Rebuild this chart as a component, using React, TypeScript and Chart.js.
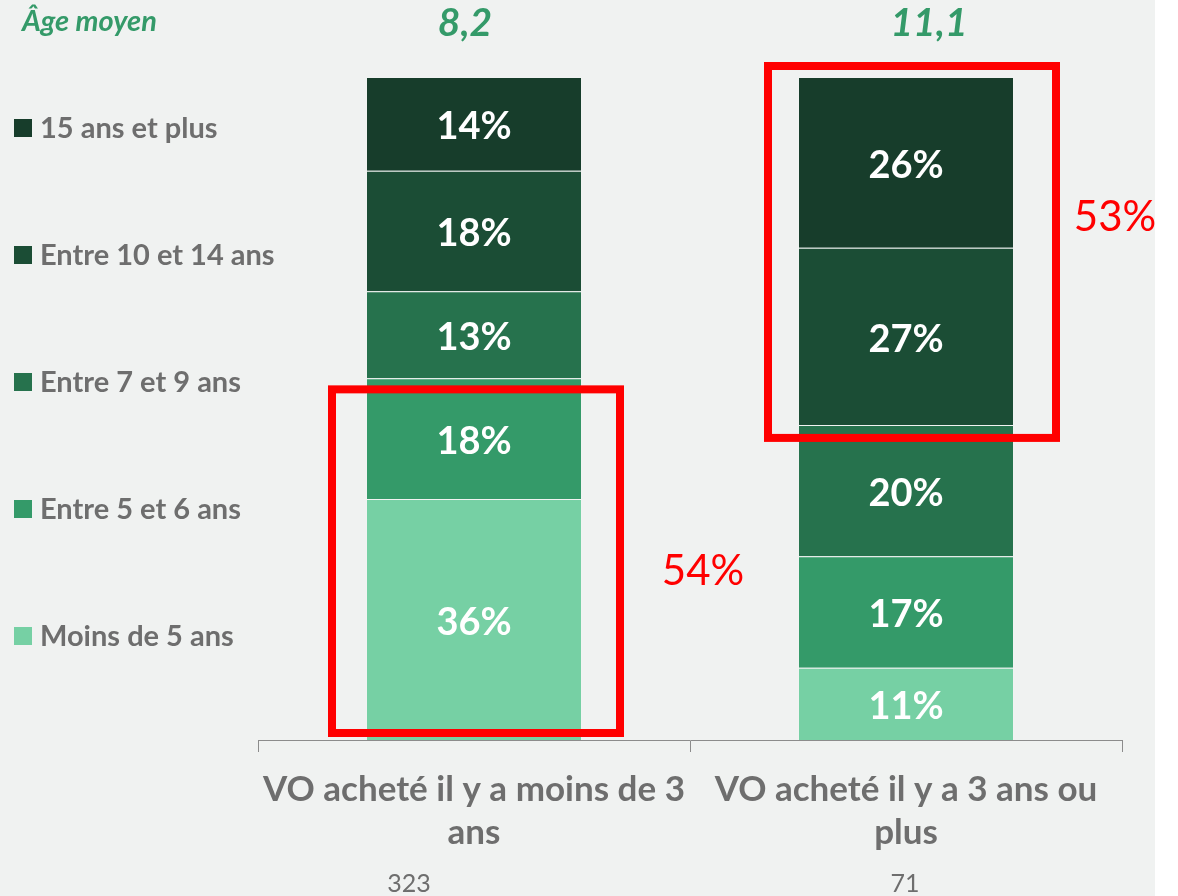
import React, { useEffect, useRef } from "react";
import { Chart, registerables } from "chart.js";

Chart.register(...registerables);

// ---------- data ----------
const categories = [
  ["VO acheté il y a moins de 3", "ans"],
  ["VO acheté il y a 3 ans ou", "plus"],
];
const sampleSizes = ["323", "71"];
const averageAges = ["8,2", "11,1"];
const averageAgeTitle = "Âge moyen";

const seriesLabels = [
  "Moins de 5 ans",
  "Entre 5 et 6 ans",
  "Entre 7 et 9 ans",
  "Entre 10 et 14 ans",
  "15 ans et plus",
];
const moinsDe5 = [36, 11];
const entre5et6 = [18, 17];
const entre7et9 = [13, 20];
const entre10et14 = [18, 27];
const plus15 = [14, 26];
const seriesValues = [moinsDe5, entre5et6, entre7et9, entre10et14, plus15];
const seriesColors = ["#76d0a4", "#349a69", "#26724d", "#1b4d35", "#173d2b"];

// highlighted groups: bar index, first & last series index, total label
const highlightBars = [0, 1];
const highlightFrom = [0, 3];
const highlightTo = [1, 4];
const highlightTotals = ["54%", "53%"];

// ---------- styling ----------
const FONT = "Lato, 'Open Sans', 'DejaVu Sans', sans-serif";
const GRAY = "#6e6e6e";
const GREEN = "#349a69";
const BG = "#f0f2f1";

const totals = categories.map((_, i) =>
  seriesValues.reduce((s, arr) => s + arr[i], 0)
);

const overlayPlugin = {
  id: "overlay",
  afterDatasetsDraw(chart: any) {
    const { ctx } = chart;
    const xScale = chart.scales.x;
    ctx.save();

    // value labels inside segments
    ctx.font = `bold 38px ${FONT}`;
    ctx.fillStyle = "#ffffff";
    ctx.textAlign = "center";
    ctx.textBaseline = "middle";
    chart.data.datasets.forEach((ds: any, di: number) => {
      const meta = chart.getDatasetMeta(di);
      meta.data.forEach((el: any, i: number) => {
        const raw = ds.rawValues[i];
        ctx.fillText(`${raw}%`, el.x, (el.y + el.base) / 2 + 3);
      });
    });

    // highlight boxes
    const boxPad = [
      { l: 34, t: -11, r: 38, b: 7, lx: 83, ly: 182 },
      { l: 30, t: 11, r: 42, b: -13, lx: 59, ly: 151 },
    ];
    highlightBars.forEach((bar, k) => {
      const topEl = chart.getDatasetMeta(highlightTo[k]).data[bar];
      const botEl = chart.getDatasetMeta(highlightFrom[k]).data[bar];
      const half = topEl.width / 2;
      const p = boxPad[k];
      const left = topEl.x - half - p.l;
      const right = topEl.x + half + p.r;
      const top = topEl.y - p.t;
      const bottom = botEl.base - p.b;
      ctx.strokeStyle = "#ff0000";
      ctx.lineWidth = 8;
      ctx.strokeRect(left, top, right - left, bottom - top);
      ctx.fillStyle = "#ff0000";
      ctx.font = `42px ${FONT}`;
      ctx.textAlign = "center";
      ctx.textBaseline = "middle";
      ctx.fillText(highlightTotals[k], right + p.lx, top + p.ly);
    });

    // legend on the left (top to bottom = last dataset first)
    ctx.font = `bold 29px ${FONT}`;
    ctx.textAlign = "left";
    ctx.textBaseline = "middle";
    for (let i = 0; i < seriesLabels.length; i++) {
      const di = seriesLabels.length - 1 - i;
      const cy = 128 + i * 127;
      ctx.fillStyle = seriesColors[di];
      ctx.fillRect(14, cy - 9, 18, 18);
      ctx.fillStyle = GRAY;
      ctx.fillText(seriesLabels[di], 40, cy + 1);
    }

    // average age header
    ctx.fillStyle = GREEN;
    ctx.font = `italic bold 29px ${FONT}`;
    ctx.textAlign = "left";
    ctx.fillText(averageAgeTitle, 22, 22);
    ctx.font = `italic bold 39px ${FONT}`;
    ctx.textAlign = "center";
    const ageDx = [-9, 23];
    averageAges.forEach((a, i) => {
      ctx.fillText(a, xScale.getPixelForValue(i) + ageDx[i], 23);
    });

    // sample sizes
    ctx.fillStyle = GRAY;
    ctx.font = `25px ${FONT}`;
    const nDx = [-65, -1];
    sampleSizes.forEach((n, i) => {
      ctx.fillText(n, xScale.getPixelForValue(i) + nDx[i], 884);
    });

    ctx.restore();
  },
};

export default function App() {
  const ref = useRef<HTMLCanvasElement>(null);

  useEffect(() => {
    if (!ref.current) return;
    const chart = new Chart(ref.current, {
      type: "bar",
      data: {
        labels: categories as any,
        datasets: seriesLabels.map((label, si) => ({
          label,
          data: seriesValues[si].map((v, i) => (v / totals[i]) * 100),
          rawValues: seriesValues[si],
          backgroundColor: seriesColors[si],
          borderColor: "rgba(255,255,255,0.12)",
          borderWidth: 1,
          borderSkipped: "start",
          barPercentage: 1,
          categoryPercentage: 0.5,
        })) as any,
      },
      options: {
        responsive: false,
        animation: false,
        layout: { padding: { left: 258, right: 33, top: 77, bottom: 0 } },
        plugins: {
          legend: { display: false },
          tooltip: { enabled: false },
          title: { display: false },
        },
        scales: {
          x: {
            stacked: true,
            offset: true,
            grid: {
              display: true,
              drawOnChartArea: false,
              offset: true,
              tickLength: 12,
              color: "#8c8c8c",
            },
            border: { display: true, color: "#8c8c8c", width: 1 },
            ticks: {
              color: GRAY,
              font: { family: FONT, size: 35, weight: "bold", lineHeight: 1.24 },
              padding: 16,
              maxRotation: 0,
              autoSkip: false,
            },
            afterFit: (scale: any) => {
              scale.height = 156;
            },
          },
          y: {
            stacked: true,
            display: false,
            min: 0,
            max: 100,
          },
        },
      },
      plugins: [overlayPlugin],
    });
    return () => chart.destroy();
  }, []);

  return (
    <div
      style={{
        position: "absolute",
        left: 0,
        top: 0,
        width: 1178,
        height: 896,
        background: "#ffffff",
      }}
    >
      <div style={{ width: 1155, height: 896, background: BG }}>
        <canvas ref={ref} width={1155} height={896} style={{ display: "block" }} />
      </div>
    </div>
  );
}
